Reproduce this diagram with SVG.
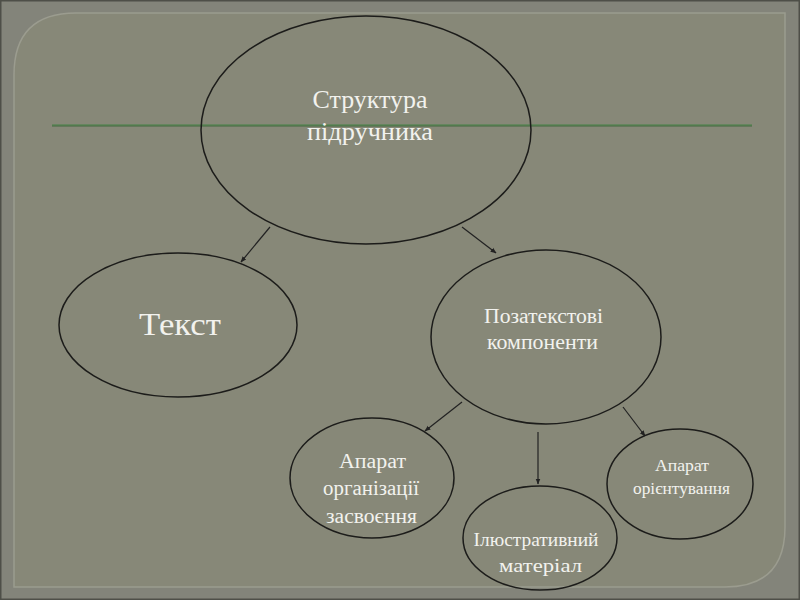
<svg xmlns="http://www.w3.org/2000/svg" width="800" height="600" viewBox="0 0 800 600">
<style>
.node ellipse{fill:none;stroke:#1c1c1a;stroke-width:1.5}
.node text{font-family:"Liberation Serif","Times New Roman",serif;fill:#f2f2ee;text-anchor:middle}
.conn line{stroke:#222;stroke-width:1.2;marker-end:url(#ah)}
</style>
<defs>
<marker id="ah" viewBox="0 0 10 10" refX="9" refY="5" markerWidth="6" markerHeight="6" orient="auto" markerUnits="userSpaceOnUse">
<path d="M0,1 L10,5 L0,9 z" fill="#222"/>
</marker>
</defs>
<rect x="0" y="0" width="800" height="600" fill="#83847a"/>
<rect x="0" y="0" width="800" height="600" fill="none" stroke="#4e4f48" stroke-width="3"/>
<path d="M14,587 L14,75 Q14,13 76,13 L785,13 L785,527 Q785,587 725,587 Z" fill="#878878" stroke="#9b9c8f" stroke-width="1.5"/>
<line x1="52" y1="125.5" x2="752" y2="125.5" stroke="#43673f" stroke-width="2"/>
<line x1="52" y1="125" x2="752" y2="125" stroke="#6a9a66" stroke-width="0.8"/>
<g class="conn">
<line x1="270" y1="227" x2="241" y2="262"/>
<line x1="462" y1="227" x2="496" y2="253"/>
<line x1="462" y1="402" x2="425" y2="431"/>
<line x1="538" y1="432" x2="538" y2="484"/>
<line x1="623" y1="407" x2="645" y2="436"/>
</g>
<g id="n-struktura" class="node">
<ellipse cx="366" cy="130" rx="165" ry="114"/>
<text x="370" y="108" font-size="25" textLength="115" lengthAdjust="spacingAndGlyphs">Структура</text>
<text x="370" y="140" font-size="25" textLength="126" lengthAdjust="spacingAndGlyphs">підручника</text>
</g>
<g id="n-tekst" class="node">
<ellipse cx="178" cy="325" rx="119" ry="72"/>
<text x="180" y="335" font-size="32" textLength="82" lengthAdjust="spacingAndGlyphs">Текст</text>
</g>
<g id="n-pozatekst" class="node">
<ellipse cx="546" cy="337" rx="115" ry="87"/>
<text x="543.5" y="323" font-size="20" textLength="119" lengthAdjust="spacingAndGlyphs">Позатекстові</text>
<text x="542.5" y="349" font-size="20" textLength="111" lengthAdjust="spacingAndGlyphs">компоненти</text>
</g>
<g id="n-aparat-org" class="node">
<ellipse cx="372" cy="478" rx="82" ry="60"/>
<text x="372.5" y="468" font-size="20.5" textLength="67" lengthAdjust="spacingAndGlyphs">Апарат</text>
<text x="371" y="495" font-size="20.5" textLength="96" lengthAdjust="spacingAndGlyphs">організації</text>
<text x="371.5" y="523" font-size="20.5" textLength="91" lengthAdjust="spacingAndGlyphs">засвоєння</text>
</g>
<g id="n-ilustr" class="node">
<ellipse cx="540" cy="538" rx="77" ry="52"/>
<text x="536" y="546" font-size="18.5" textLength="125" lengthAdjust="spacingAndGlyphs">Ілюстративний</text>
<text x="540.5" y="572" font-size="18.5" textLength="83" lengthAdjust="spacingAndGlyphs">матеріал</text>
</g>
<g id="n-aparat-or" class="node">
<ellipse cx="680" cy="484" rx="73" ry="55"/>
<text x="682" y="471" font-size="17.5" textLength="54" lengthAdjust="spacingAndGlyphs">Апарат</text>
<text x="681.5" y="494" font-size="17.5" textLength="97" lengthAdjust="spacingAndGlyphs">орієнтування</text>
</g>
</svg>
